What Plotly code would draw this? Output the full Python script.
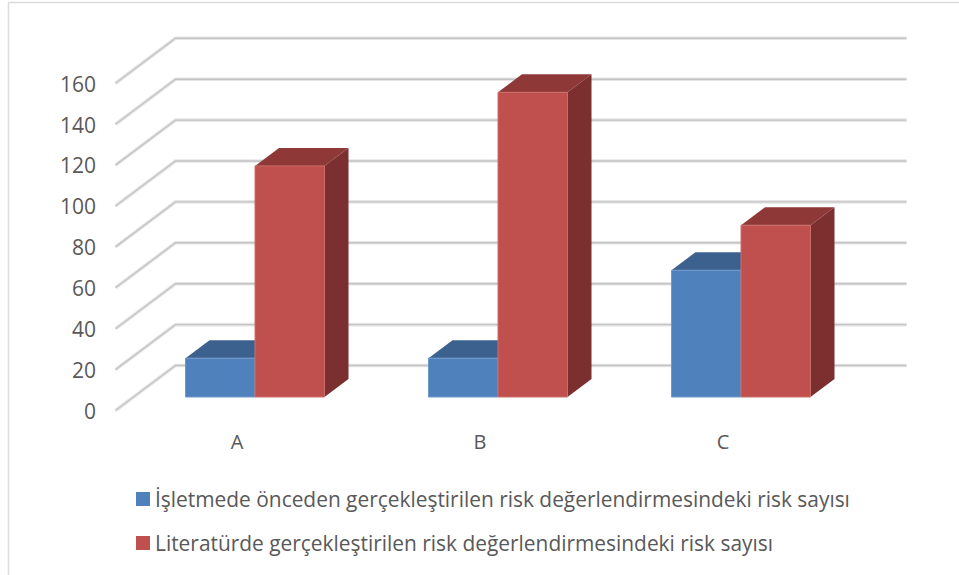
import plotly.graph_objects as go

categories = ["A", "B", "C"]
series_names = [
    "İşletmede önceden gerçekleştirilen risk değerlendirmesindeki risk sayısı",
    "Literatürde gerçekleştirilen risk değerlendirmesindeki risk sayısı",
]
existing_risks = [19, 19, 62]
literature_risks = [113, 149, 84]
y_ticks = [0, 20, 40, 60, 80, 100, 120, 140, 160]
series_colors = ["#4f81bd", "#c0504d"]
edge_colors = ["#6f97c9", "#cb6e6b"]

WIDTH, HEIGHT = 959, 575
CAT_PX = 243.0      # horizontal pixels per category
UNIT_PX = 2.045     # vertical pixels per value unit
ORIGIN_X = 237.0    # pixel of the first category on the front floor edge
ORIGIN_Y = 410.5    # pixel of value 0 on the front floor edge
DEPTH_X = 60.0 / CAT_PX     # full floor depth as an x shift
DEPTH_Y = 45.0 / UNIT_PX    # full floor depth as a y shift
BAR_W = 69.5 / CAT_PX
BAR_NEAR, BAR_FAR = 0.3, 0.7

x_range = [-ORIGIN_X / CAT_PX, (WIDTH - ORIGIN_X) / CAT_PX]
y_range = [-(HEIGHT - ORIGIN_Y) / UNIT_PX, ORIGIN_Y / UNIT_PX]


def project(x, v, depth):
    """Oblique projection of (category x, value, depth 0..1) onto the axes."""
    return x + depth * DEPTH_X, v + depth * DEPTH_Y


def polygon(points, color):
    path = "M" + " L".join(f"{x:.5f},{y:.5f}" for x, y in points) + " Z"
    return dict(type="path", path=path, xref="x", yref="y", layer="below",
                fillcolor=color, line=dict(width=0))


def bar_faces(x_left, value, top_color, side_color):
    x_right = x_left + BAR_W
    top = [project(x_left, value, BAR_NEAR), project(x_right, value, BAR_NEAR),
           project(x_right, value, BAR_FAR), project(x_left, value, BAR_FAR)]
    side = [project(x_right, 0, BAR_NEAR), project(x_right, value, BAR_NEAR),
            project(x_right, value, BAR_FAR), project(x_right, 0, BAR_FAR)]
    return [polygon(top, top_color), polygon(side, side_color)]


shapes = []

# Gridlines run along the side wall, then across the back wall
left, right = -0.5, 2.5 + 2 / CAT_PX
for tick in y_ticks:
    pts = [project(left, tick, 0), project(left, tick, 1), project(right, tick, 1)]
    path = "M" + " L".join(f"{x:.5f},{y:.5f}" for x, y in pts)
    for color, width in (("#e6e6e6", 3.6), ("#c4c4c4", 1.4)):
        shapes.append(dict(type="path", path=path, xref="x", yref="y", layer="below",
                           line=dict(color=color, width=width)))

# Top and side faces of each column; the front faces are the bar traces
for i in range(len(categories)):
    shapes += bar_faces(i - BAR_W, existing_risks[i], "#3c618e", "#34557c")
    shapes += bar_faces(i, literature_risks[i], "#8e3937", "#7b2f2e")

# Chart frame: only the top and left edges are visible
frame = "#dcdcdc"
shapes.append(dict(type="line", xref="paper", yref="paper", x0=8.5 / WIDTH, x1=1,
                   y0=1 - 2.5 / HEIGHT, y1=1 - 2.5 / HEIGHT, line=dict(color=frame, width=1.5)))
shapes.append(dict(type="line", xref="paper", yref="paper", x0=8.5 / WIDTH, x1=8.5 / WIDTH,
                   y0=0, y1=1 - 2.5 / HEIGHT, line=dict(color=frame, width=1.5)))

# Key: one swatch and one text row per series
annotations = []
key_rows = [499, 543]
for name, color, row in zip(series_names, series_colors, key_rows):
    shapes.append(dict(type="rect", xref="paper", yref="paper",
                       x0=136 / WIDTH, x1=150 / WIDTH,
                       y0=1 - (row + 7) / HEIGHT, y1=1 - (row - 7) / HEIGHT,
                       fillcolor=color, line=dict(width=0)))
    annotations.append(dict(text=name, xref="paper", yref="paper", showarrow=False,
                            x=153 / WIDTH, y=1 - row / HEIGHT,
                            xanchor="left", yanchor="middle",
                            font=dict(size=20.9, family="Open Sans", color="#595959")))

near_shift = BAR_NEAR * DEPTH_X
near_lift = BAR_NEAR * DEPTH_Y
positions = list(range(len(categories)))

fig = go.Figure()
fig.add_bar(x=positions, y=existing_risks, base=near_lift, width=BAR_W,
            offset=near_shift - BAR_W, name=series_names[0],
            marker=dict(color=series_colors[0], line=dict(color=edge_colors[0], width=1)),
            hoverinfo="y")
fig.add_bar(x=positions, y=literature_risks, base=near_lift, width=BAR_W,
            offset=near_shift, name=series_names[1],
            marker=dict(color=series_colors[1], line=dict(color=edge_colors[1], width=1)),
            hoverinfo="y")

fig.update_layout(
    width=WIDTH, height=HEIGHT,
    margin=dict(l=0, r=0, t=0, b=0),
    paper_bgcolor="white", plot_bgcolor="white",
    barmode="overlay",
    showlegend=False,
    shapes=shapes,
    annotations=annotations,
    font=dict(family="Open Sans", color="#595959"),
    xaxis=dict(range=x_range, domain=[0, 1], anchor="free", position=1 - 428 / HEIGHT,
               tickmode="array", tickvals=positions, ticktext=categories,
               showgrid=False, zeroline=False, showline=False, ticks="",
               tickfont=dict(size=20), automargin=False),
    yaxis=dict(range=y_range, domain=[0, 1], anchor="free", position=96 / WIDTH,
               tickmode="array", tickvals=y_ticks,
               showgrid=False, zeroline=False, showline=False, ticks="",
               tickfont=dict(size=21), ticklabelshift=1, automargin=False),
)

fig.write_html("out.html")
